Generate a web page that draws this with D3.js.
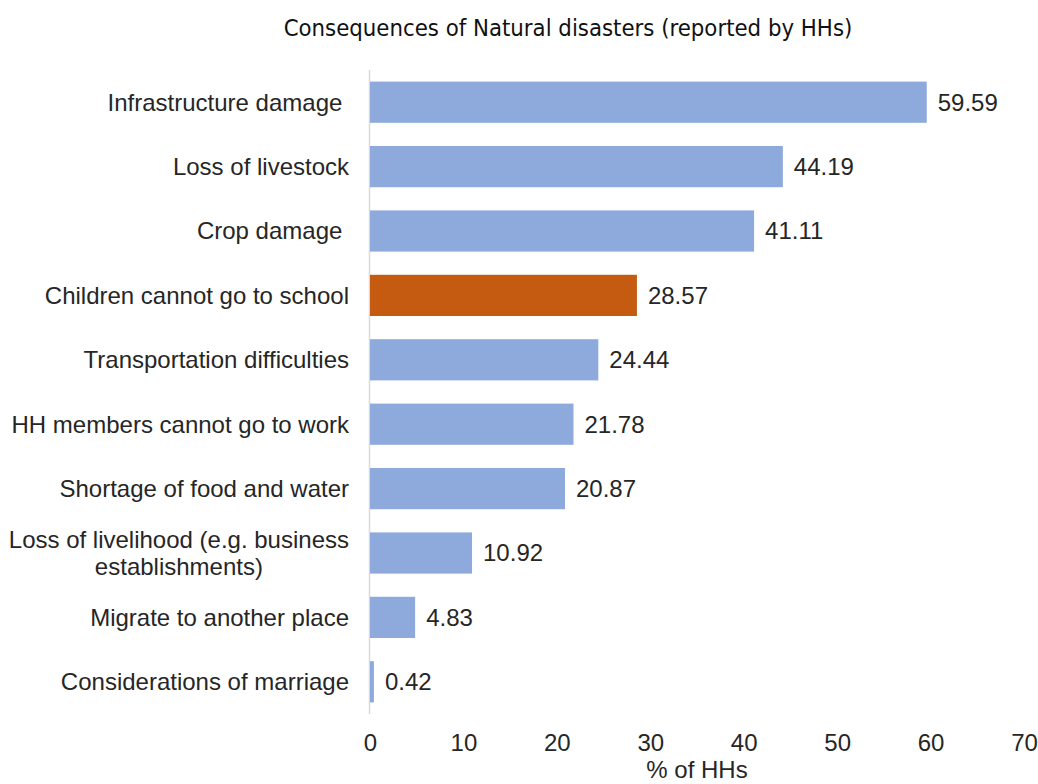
<!DOCTYPE html>
<html>
<head>
<meta charset="utf-8">
<script src="https://cdn.jsdelivr.net/npm/d3@7"></script>
<style>
  html, body { margin: 0; padding: 0; background: #fff; }
  svg { display: block; }
  svg text { white-space: pre; }
</style>
</head>
<body>
<svg id="chart" width="1038" height="784"></svg>
<script>
// Consequences reported by households, in display order (top to bottom)
const categories = [
  ["Infrastructure damage "],
  ["Loss of livestock"],
  ["Crop damage "],
  ["Children cannot go to school"],
  ["Transportation difficulties"],
  ["HH members cannot go to work"],
  ["Shortage of food and water"],
  ["Loss of livelihood (e.g. business", "establishments)"],
  ["Migrate to another place"],
  ["Considerations of marriage"]
];
const values = [59.59, 44.19, 41.11, 28.57, 24.44, 21.78, 20.87, 10.92, 4.83, 0.42];
const highlight = "Children cannot go to school";
const xTicks = [0, 10, 20, 30, 40, 50, 60, 70];

const data = categories.map((lines, i) => ({ key: lines.join(" ").trim(), lines, value: values[i] }));

const svg = d3.select("#chart");
const labelFont = "'Liberation Sans', Arial, sans-serif";
const labelSize = "24px";
const textColor = "#262626";

const x = d3.scaleLinear().domain([0, 70]).range([370, 1024]);
const y = d3.scaleBand().domain(data.map(d => d.key)).range([70, 714]).paddingInner(0.36).paddingOuter(0.18);

// Title
svg.append("text")
  .attr("x", 568).attr("y", 36)
  .attr("text-anchor", "middle")
  .style("font-family", "'Liberation Sans Narrow', 'DejaVu Sans Condensed', sans-serif")
  .style("font-size", "23.7px")
  .attr("fill", "#111")
  .text("Consequences of Natural disasters (reported by HHs)");

// Vertical baseline
svg.append("line")
  .attr("x1", x(0) - 0.5).attr("x2", x(0) - 0.5)
  .attr("y1", 70).attr("y2", 714)
  .attr("stroke", "#d9d9d9").attr("stroke-width", 1.5);

// Bars
svg.append("g").selectAll("rect").data(data).join("rect")
  .attr("x", x(0))
  .attr("y", d => y(d.key))
  .attr("width", d => x(d.value) - x(0))
  .attr("height", y.bandwidth())
  .attr("fill", d => d.key === highlight ? "#c55a11" : "#8eaadc");

// Value labels
svg.append("g").selectAll("text").data(data).join("text")
  .attr("x", d => x(d.value) + 11)
  .attr("y", d => y(d.key) + y.bandwidth() / 2)
  .attr("dy", "0.35em")
  .style("font-family", labelFont)
  .style("font-size", labelSize)
  .attr("fill", textColor)
  .text(d => d.value.toFixed(2));

// Category labels (y axis)
const yAxis = d3.axisLeft(y).tickSize(0).tickPadding(0).tickFormat("");
const yG = svg.append("g").attr("transform", "translate(349,0)").call(yAxis);
yG.select(".domain").remove();
yG.selectAll(".tick").each(function (key) {
  const d = data.find(e => e.key === key);
  const t = d3.select(this).append("text")
    .style("font-family", labelFont)
    .style("font-size", labelSize)
    .attr("fill", textColor);
  if (d.lines.length === 1) {
    t.attr("text-anchor", "end").attr("x", 0).attr("dy", "0.35em").text(d.lines[0]);
  } else {
    // two-line label: centred block, right edge at the axis
    const w = t.text(d.lines[0]).node().getComputedTextLength();
    t.text(null).attr("text-anchor", "middle");
    d.lines.forEach((line, i) => {
      t.append("tspan")
        .attr("x", -w / 2)
        .attr("y", (i - (d.lines.length - 1) / 2) * 27)
        .attr("dy", "0.35em")
        .text(line);
    });
  }
});

// X axis tick labels
const xAxis = d3.axisBottom(x).tickValues(xTicks).tickSize(0).tickPadding(0).tickFormat(d3.format("d"));
const xG = svg.append("g").attr("transform", "translate(0,734)").call(xAxis);
xG.select(".domain").remove();
xG.selectAll("text")
  .style("font-family", labelFont)
  .style("font-size", labelSize)
  .attr("fill", textColor);

// X axis title
svg.append("text")
  .attr("x", (x(0) + x(70)) / 2).attr("y", 778)
  .attr("text-anchor", "middle")
  .style("font-family", labelFont)
  .style("font-size", labelSize)
  .attr("fill", textColor)
  .text("% of HHs");
</script>
</body>
</html>
